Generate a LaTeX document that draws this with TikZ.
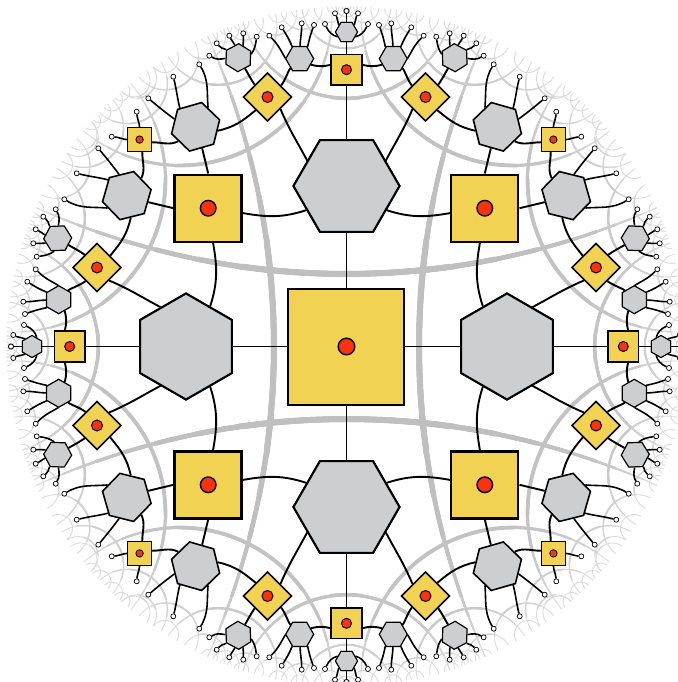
\documentclass[tikz,border=0pt]{standalone}
\usetikzlibrary{shapes.geometric}
\definecolor{tileyellow}{RGB}{242,210,82}
\definecolor{hexgray}{RGB}{204,206,207}
\definecolor{dotred}{RGB}{250,50,14}
\pgfdeclarelayer{geo}
\pgfdeclarelayer{links}
\pgfsetlayers{geo,links,main}

% geodesic of the disk (radius 170pt) between boundary angles #1 < #2
\newcommand\geo[2]{%
  \pgfmathsetmacro\ga{#1}%
  \pgfmathsetmacro\gm{(\ga+(#2))/2}%
  \pgfmathsetmacro\gd{((#2)-\ga)/2}%
  \pgfmathsetmacro\gr{170*tan(\gd)}%
  \draw (\ga:170pt) arc[start angle=\gm+270-\gd, end angle=\gm+90+\gd, radius=\gr pt];}

\begin{document}
\begin{tikzpicture}[x=0.5pt, y=0.5pt,
    sqr/.style={draw, fill=tileyellow, inner sep=0pt, minimum size=#1},
    hexa/.style={regular polygon, regular polygon sides=6, draw, fill=hexgray, inner sep=0pt, minimum size=#1},
    dot/.style={circle, draw, fill=dotred, inner sep=0pt, minimum size=#1},
    leaf/.style={circle, draw, fill=white, inner sep=0pt, minimum size=2.5pt, line width=0.35pt},
    link/.style={line width=0.95pt},
    leg/.style={line width=0.8pt}]
    \useasboundingbox (-346.5,-335.5) rectangle (330.5,346.5);

    % tiling lines, thinner and lighter towards the rim
    \begin{pgfonlayer}{geo}
    \fill[white] (-346.5,-335.5) rectangle (330.5,346.5);
    \foreach \rr/\w/\g in {1/0.45/14, 0.955/0.65/17, 0.915/0.9/19, 0.87/1.2/21, 0.81/1.55/23,
                            0.73/1.9/24, 0.63/2.25/25, 0.51/2.6/25, 0.39/2.95/25}{
        \begin{scope}[line width=\w pt, draw=black!\g]
            \clip (0,0) circle[radius=\rr*170pt];
            \foreach \a/\b in {24.1/155.9, 92.46/140.66, 72.3/107.7, 82.5/97.5, 102.04/121.6,
                               116.46/127.57, 123.09/136.54, 94.12/101.06, 98.43/105.76,
                               104.25/110.49, 108.53/113.19, 111.13/118.45, 88.2/91.8, 90.24/95.48,
                               119.95/124.61, 125.93/131.39, 130/133, 131.8/135.41, 124.7/131.38,
                               106.77/109.26, 109.85/111.8, 112.41/115.23, 96.46/99.35,
                               100.12/103.16, 89.24/90.76, 91.22/93.26}
                \foreach \k in {0,90,180,270}{\geo{\a+\k}{\b+\k}\geo{180-\b+\k}{180-\a+\k}}
        \end{scope}}
    \end{pgfonlayer}

    % central tensor
    \node[sqr=58pt, line width=1pt] (c) at (0,0) {};
    \node[dot=8.3pt, line width=0.7pt] (cr) at (c) {};

    % one eighth of the network, repeated by the symmetries of the square
    \foreach \s/\r/\f in {a/0/1, b/0/-1, c/90/1, d/90/-1, e/180/1, f/180/-1, g/270/1, h/270/-1}{
    \begin{scope}[rotate=\r, xscale=\f, transform shape]
        \node[hexa=53pt, line width=1pt] (h1\s) at (0,160.5) {};
        \node[sqr=33.5pt, line width=1.2pt] (s1\s) at (-138.3,138.3) {};
        \node[dot=7.8pt, line width=0.7pt] (s1r\s) at (s1\s) {};
        \node[sqr=17pt, rotate=45, line width=0.8pt] (d2\s) at (-79,249.5) {};
        \node[dot=5.5pt, line width=0.5pt] (d2r\s) at (d2\s) {};
        \node[sqr=15.3pt, line width=0.8pt] (s2\s) at (0,276.8) {};
        \node[dot=5pt, line width=0.5pt] (s2r\s) at (s2\s) {};
        \node[sqr=12pt, line width=0.6pt] (s3\s) at (-206.9,206.9) {};
        \node[dot=3.7pt, line width=0.4pt] (s3r\s) at (s3\s) {};
        \node[hexa=25pt, shape border rotate=16, line width=0.8pt] (h2\s) at (-150.9,219.7) {};
        \node[hexa=14pt, shape border rotate=28, line width=0.6pt] (ha\s) at (-108.2,288.8) {};
        \node[hexa=14pt, line width=0.6pt] (hb\s) at (-46.8,287.8) {};
        \node[hexa=11pt, line width=0.5pt] (t\s) at (0,314.5) {};

        % open legs at the rim
        \foreach \n/\x/\y in {q1/-147.2/282.2, q2/-173.2/269.8, q3/-198.2/248.2, q4/-209.8/234.8,
                              a1/-89.8/309.8, a2/-103.2/313.2, a3/-117.2/310.8, a4/-129.8/303.2,
                              a5/-137.2/290.8, b1/-32.5/321.5, b2/-44.8/323.2, b3/-64.8/319.2,
                              b4/-77.2/310.8, c1/0/335.5, c2/-11.5/333.2, c3/-21.5/322.5}
            \node[leaf] (\n\s) at (\x,\y) {};

        \begin{pgfonlayer}{links}
            \draw[link] (c) -- (h1\s);
            \draw[link] (h1\s) -- (s2\s);
            \draw[link] (s2\s) -- (t\s);
            \draw[link] (h1\s.211) to[out=198, in=350] (s1\s.-8);
            \draw[link] (h1\s.147) to[out=118, in=293] (d2\s.-88);
            \draw[link] (s1\s.90) -- (h2\s.287);
            \draw[link] (d2\s.183) to[out=220, in=12] (h2\s.-10);
            \draw[link] (d2\s.91) to[out=125, in=300] (ha\s.302);
            \draw[link] (d2\s.-5) to[out=55, in=240] (hb\s.225);
            \draw[link] (hb\s.-28) to[out=-15, in=195] (s2\s.163);
            \draw[link] (h2\s.220) to[out=205, in=0] (s3\s.-12);
            \foreach \src/\an/\o/\n/\i in {h2/57/95/q1/301, h2/130/104/q2/284, h2/160/143/q3/320,
                                            s3/90/95/q4/275, ha/15/55/a1/262, ha/68/85/a2/270,
                                            ha/105/115/a3/295, ha/146/160/a4/310, ha/183/190/a5/330,
                                            hb/178/120/b4/315, hb/122/112/b3/302, hb/88/90/b2/270,
                                            hb/56/78/b1/250, t/90/90/c1/270, t/139/120/c2/300,
                                            t/209/165/c3/295}
                \draw[leg] (\src\s.\an) to[out=\o, in=\i] (\n\s);
        \end{pgfonlayer}
    \end{scope}}
\end{tikzpicture}
\end{document}
